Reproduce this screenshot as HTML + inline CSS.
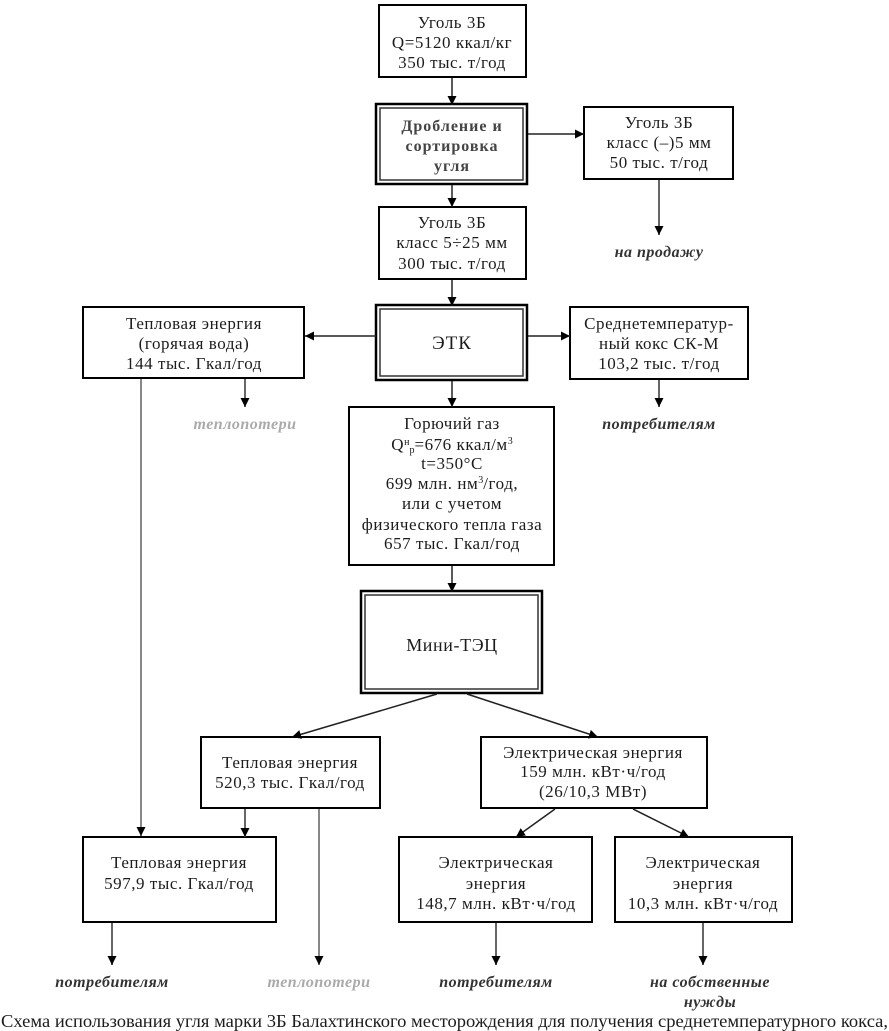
<!DOCTYPE html>
<html lang="ru"><head><meta charset="utf-8"><style>
html,body{margin:0;padding:0;background:#fff;overflow:hidden}
svg{display:block}
text{font-family:"Liberation Serif",serif;font-size:17px;letter-spacing:.55px;fill:#1c1c1c;text-anchor:middle}
.d{font-weight:bold;font-size:16px;letter-spacing:1px;fill:#444}
.i{font-style:italic;font-weight:bold;font-size:16px;letter-spacing:.5px;fill:#333}
.g{fill:#aaa}
.b{fill:#fff;stroke:#000;stroke-width:2}
.o{fill:#fff;stroke:#000;stroke-width:2.5}
.n{fill:none;stroke:#333;stroke-width:1.5}
.l{stroke:#222;stroke-width:1.5;fill:none}
.m{stroke:#555;stroke-width:1.8;fill:none}
.y{stroke:#888;stroke-width:2;fill:none}
.s{font-size:10px;letter-spacing:0}
</style></head><body>
<svg width="889" height="1031" viewBox="0 0 889 1031" xmlns="http://www.w3.org/2000/svg">
<defs><marker id="a" markerWidth="10" markerHeight="9" refX="9" refY="4.5" orient="auto" markerUnits="userSpaceOnUse"><path d="M0,0L9,4.5L0,9z" fill="#000"/></marker></defs>
<rect class="b" x="379" y="5" width="147" height="72"/>
<rect class="o" x="376" y="104" width="151" height="80"/><rect class="n" x="380" y="108" width="143" height="72"/>
<rect class="b" x="584" y="107" width="149" height="72"/>
<rect class="b" x="379" y="207" width="147" height="72"/>
<rect class="b" x="83" y="307" width="221" height="71"/>
<rect class="o" x="376" y="305" width="151" height="75"/><rect class="n" x="380" y="309" width="143" height="67"/>
<rect class="b" x="570" y="307" width="178" height="72"/>
<rect class="b" x="349" y="407" width="205" height="158"/>
<rect class="o" x="361" y="591" width="181" height="102"/><rect class="n" x="365" y="595" width="173" height="94"/>
<rect class="b" x="201" y="737" width="179" height="71"/>
<rect class="b" x="481" y="737" width="226" height="71"/>
<rect class="b" x="83" y="837" width="193" height="85"/>
<rect class="b" x="399" y="837" width="193" height="85"/>
<rect class="b" x="615" y="837" width="177" height="85"/>
<g>
<path class="l" d="M452 78V105" marker-end="url(#a)"/>
<path class="l" d="M528 134H584" marker-end="url(#a)"/>
<path class="l" d="M452 185V207" marker-end="url(#a)"/>
<path class="l" d="M452 280V306" marker-end="url(#a)"/>
<path class="l" d="M376 336H305" marker-end="url(#a)"/>
<path class="l" d="M528 336H570" marker-end="url(#a)"/>
<path class="l" d="M452 381V407" marker-end="url(#a)"/>
<path class="l" d="M452 566V592" marker-end="url(#a)"/>
<path class="l" d="M437 694L292 737" marker-end="url(#a)"/>
<path class="l" d="M467 694L598 737" marker-end="url(#a)"/>
<path class="l" d="M555 809L516 837" marker-end="url(#a)"/>
<path class="l" d="M633 809L689 837" marker-end="url(#a)"/>
<path class="m" d="M659 180V235" marker-end="url(#a)"/>
<path class="m" d="M245 379V407" marker-end="url(#a)"/>
<path class="m" d="M659 380V407" marker-end="url(#a)"/>
<path class="m" d="M245 809V837" marker-end="url(#a)"/>
<path class="m" d="M112 923V965" marker-end="url(#a)"/>
<path class="m" d="M496 923V965" marker-end="url(#a)"/>
<path class="m" d="M703 923V965" marker-end="url(#a)"/>
<path class="y" d="M141 379V836" marker-end="url(#a)"/>
<path class="y" d="M319 809V965" marker-end="url(#a)"/>
</g>
<text x="452" y="28">Уголь 3Б</text><text x="452" y="48">Q=5120 ккал/кг</text><text x="452" y="68">350 тыс. т/год</text>
<text class="d" x="452" y="131">Дробление и</text><text class="d" x="452" y="151">сортировка</text><text class="d" x="452" y="171">угля</text>
<text x="659" y="128">Уголь 3Б</text><text x="659" y="148">класс (–)5 мм</text><text x="659" y="168">50 тыс. т/год</text>
<text x="452" y="228">Уголь 3Б</text><text x="452" y="248">класс 5÷25 мм</text><text x="452" y="269">300 тыс. т/год</text>
<text x="194" y="329">Тепловая энергия</text><text x="194" y="349">(горячая вода)</text><text x="194" y="369">144 тыс. Гкал/год</text>
<text x="452" y="349" style="font-size:19px;letter-spacing:1px">ЭТК</text>
<text x="659" y="329">Среднетемператур-</text><text x="659" y="349">ный кокс СК-М</text><text x="659" y="369">103,2 тыс. т/год</text>
<text x="452" y="429">Горючий газ</text>
<text x="452" y="450">Q<tspan class="s" dy="-5">н</tspan><tspan class="s" dy="8">р</tspan><tspan dy="-3">=676 ккал/м</tspan><tspan class="s" dy="-6">3</tspan></text>
<text x="452" y="469">t=350°C</text>
<text x="452" y="489">699 млн. нм<tspan class="s" dy="-6">3</tspan><tspan dy="6">/год,</tspan></text>
<text x="452" y="509">или с учетом</text><text x="452" y="530">физического тепла газа</text><text x="452" y="549">657 тыс. Гкал/год</text>
<text x="452" y="651" style="font-size:18px;letter-spacing:.6px">Мини-ТЭЦ</text>
<text x="290" y="768">Тепловая энергия</text><text x="290" y="788">520,3 тыс. Гкал/год</text>
<text x="593" y="758">Электрическая энергия</text><text x="593" y="777">159 млн. кВт·ч/год</text><text x="593" y="797">(26/10,3 МВт)</text>
<text x="179" y="868">Тепловая энергия</text><text x="179" y="889">597,9 тыс. Гкал/год</text>
<text x="496" y="868">Электрическая</text><text x="496" y="889">энергия</text><text x="496" y="909">148,7 млн. кВт·ч/год</text>
<text x="703" y="868">Электрическая</text><text x="703" y="889">энергия</text><text x="703" y="909">10,3 млн. кВт·ч/год</text>
<text class="i" x="659" y="257">на продажу</text><text class="i g" x="245" y="429">теплопотери</text><text class="i" x="659" y="429">потребителям</text>
<text class="i" x="112" y="987">потребителям</text><text class="i g" x="319" y="987">теплопотери</text><text class="i" x="496" y="987">потребителям</text><text class="i" x="710" y="987">на собственные</text><text class="i" x="710" y="1007">нужды</text>
<text x="1" y="1027" textLength="887" lengthAdjust="spacingAndGlyphs" style="font-size:17.5px;letter-spacing:0;text-anchor:start">Схема использования угля марки 3Б Балахтинского месторождения для получения среднетемпературного кокса,</text>
</svg></body></html>
